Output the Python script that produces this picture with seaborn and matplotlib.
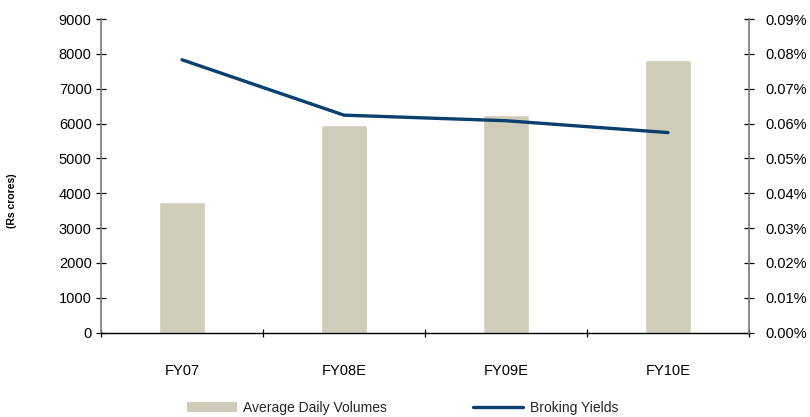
import matplotlib
matplotlib.use("Agg")
import matplotlib.pyplot as plt
from matplotlib import font_manager
from matplotlib.patches import Patch
from matplotlib.lines import Line2D
from matplotlib.ticker import FixedLocator, FuncFormatter
import numpy as np
import pandas as pd
import seaborn as sns

# Data
years = ["FY07", "FY08E", "FY09E", "FY10E"]
avg_daily_volumes = [3740, 5960, 6250, 7830]          # Rs crores
broking_yields = [0.0783, 0.0624, 0.0608, 0.0574]     # percent

sns.set_theme(style="white")

installed = {f.name for f in font_manager.fontManager.ttflist}
narrow = "Liberation Sans Narrow" if "Liberation Sans Narrow" in installed else "Liberation Sans"
plt.rcParams["font.family"] = ["Liberation Sans", "DejaVu Sans"]

bar_color = "#CFCCB9"
line_color = "#0B3F6E"
spine_gray = "#808080"

df = pd.DataFrame({"year": years, "volume": avg_daily_volumes, "yield": broking_yields})

fig = plt.figure(figsize=(8.1, 4.17), dpi=100)
ax = fig.add_axes([0.1247, 0.2026, 0.8, 0.7518])

sns.barplot(data=df, x="year", y="volume", color=bar_color, width=0.29,
            saturation=1, ax=ax, zorder=2)

ax2 = ax.twinx()
sns.lineplot(x=np.arange(len(years)), y=df["yield"], color=line_color,
             linewidth=2.4, ax=ax2, zorder=3, solid_capstyle="round")

ax.set_xlim(-0.5, len(years) - 0.5)
ax.set_ylim(0, 9000)
ax.set_yticks(np.arange(0, 9001, 1000))
ax2.set_ylim(0, 0.09)
ax2.set_yticks(np.arange(0, 0.0901, 0.01))
ax2.yaxis.set_major_formatter(FuncFormatter(lambda v, p: f"{v:.2f}%"))

for a in (ax, ax2):
    for s in a.spines.values():
        s.set_visible(False)

ax.spines["left"].set_visible(True)
ax.spines["left"].set_color(spine_gray)
ax.spines["left"].set_linewidth(1.3)
ax.spines["bottom"].set_visible(True)
ax.spines["bottom"].set_color("black")
ax.spines["bottom"].set_linewidth(1.0)
ax2.spines["right"].set_visible(True)
ax2.spines["right"].set_color(spine_gray)
ax2.spines["right"].set_linewidth(1.3)

ax.tick_params(axis="y", which="major", left=True, direction="inout", length=7.5,
               width=0.9, color="black", labelsize=10.5, pad=3, labelcolor="black")
ax2.tick_params(axis="y", which="major", right=True, direction="inout", length=7.5,
                width=0.9, color="black", labelsize=10.5, pad=8, labelcolor="black")

# category labels without ticks; small ticks on category boundaries
ax.tick_params(axis="x", which="major", bottom=False, labelsize=10.5, pad=17,
               labelcolor="black")
ax.xaxis.set_minor_locator(FixedLocator(np.arange(-0.5, len(years), 1.0)))
ax.tick_params(axis="x", which="minor", bottom=True, direction="inout", length=6,
               width=0.9, color="black")
ax.set_xlabel("")
ax2.set_xlabel("")
ax2.set_ylabel("")

ax.set_ylabel("(Rs crores)", fontsize=7.5, family=[narrow, "DejaVu Sans"],
              fontweight="bold", color="black")
ax.yaxis.set_label_coords(-0.13, 0.42)

handles = [Patch(facecolor=bar_color, edgecolor="none"),
           Line2D([0], [0], color=line_color, linewidth=2.4)]
fig.legend(handles, ["Average Daily Volumes", "Broking Yields"],
           loc="center", bbox_to_anchor=(0.497, 0.022), ncol=2, frameon=False,
           prop={"family": [narrow, "DejaVu Sans"], "size": 10},
           handlelength=3.6, handleheight=0.8, handletextpad=0.45,
           columnspacing=6.2, borderaxespad=0)

fig.savefig("out.png", dpi=100)
